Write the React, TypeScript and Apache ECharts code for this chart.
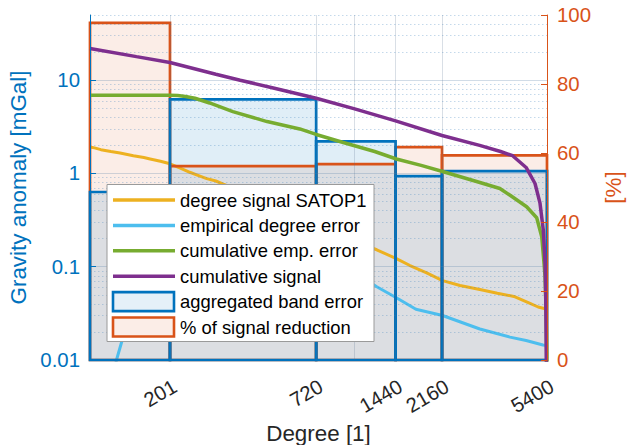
import React, { useEffect, useRef } from 'react';
import * as echarts from 'echarts';

const FONT = '"Liberation Sans", Arial, Helvetica, sans-serif';

const BLUE = '#0072BD';
const ORANGE = '#D95319';
const YELLOW = '#EDB120';
const PURPLE = '#7E2F8E';
const GREEN = '#77AC30';
const CYAN = '#4DBEEE';
const INK = '#262626';

// Spectral bands: degree edges, aggregated band error [mGal], signal reduction [%]
const bandEdges = [100, 201, 720, 1440, 2160, 5400];
const bandError = [0.633, 6.23, 2.21, 0.936, 1.058];
const signalReduction = [97.7, 56.2, 56.8, 61.7, 59.3];

// Axis ticks and grid positions
const degreeTicks = [201, 720, 1440, 2160, 5400];
const degreeGrid = [201, 720, 1000, 1440, 2160];
const anomalyMajor = [0.1, 1, 10];
const anomalyMinor = [
  0.02, 0.03, 0.04, 0.05, 0.06, 0.07, 0.08, 0.09,
  0.2, 0.3, 0.4, 0.5, 0.6, 0.7, 0.8, 0.9,
  2, 3, 4, 5, 6, 7, 8, 9,
  20, 30, 40, 50,
];

// degree signal SATOP1 [degree, mGal]
const degreeSignal = [
  [100, 1.92], [104, 1.88], [110, 1.8], [120, 1.72], [130, 1.66], [146, 1.55],
  [160, 1.48], [169, 1.43], [185, 1.35], [201, 1.27], [220, 1.14], [239, 1.03],
  [258, 0.95], [277, 0.88], [300, 0.83], [320, 0.77], [400, 0.6], [500, 0.46],
  [600, 0.36], [720, 0.29], [850, 0.235], [1000, 0.19], [1100, 0.17], [1222, 0.152],
  [1450, 0.122], [1633, 0.103], [1889, 0.086], [2170, 0.071], [2527, 0.063],
  [3005, 0.057], [3500, 0.052], [4045, 0.048], [4610, 0.041], [5000, 0.037], [5400, 0.035],
];

// empirical degree error [degree, mGal]
const degreeError = [
  [118, 0.004], [126, 0.01], [134.5, 0.019], [140, 0.03], [150, 0.06], [170, 0.14],
  [201, 0.26], [250, 0.36], [300, 0.4], [400, 0.36], [500, 0.28], [600, 0.2],
  [720, 0.14], [900, 0.1], [1100, 0.074], [1222, 0.061], [1450, 0.0465], [1720, 0.035],
  [2170, 0.03], [3005, 0.0215], [3908, 0.0176], [4500, 0.0162], [5213, 0.0145], [5400, 0.0143],
];

// cumulative empirical error [degree, mGal]
const cumulativeError = [
  [100, 6.9], [150, 6.9], [201, 6.9], [215, 6.85], [230, 6.7], [250, 6.4], [284, 5.7],
  [348, 4.6], [469, 3.6], [624, 3.0], [720, 2.62], [912, 2.15], [1200, 1.72], [1450, 1.43],
  [1800, 1.22], [2170, 1.05], [2920, 0.82], [3579, 0.69], [3925, 0.58], [4520, 0.44],
  [4936, 0.335], [5157, 0.21], [5260, 0.11], [5308, 0.079], [5355, 0.035], [5385, 0.012],
  [5398, 0.004],
];

// cumulative signal [degree, mGal]
const cumulativeSignal = [
  [100, 21.9], [150, 17.9], [201, 15.5], [300, 11.6], [371, 10], [500, 8.2], [720, 6.4],
  [1000, 4.96], [1440, 3.66], [2160, 2.55], [3000, 2.0], [3600, 1.72], [4000, 1.55],
  [4500, 1.16], [4864, 0.78], [5080, 0.48], [5229, 0.247], [5308, 0.11], [5341, 0.048],
  [5355, 0.021], [5370, 0.008], [5400, 0.004],
];

const errorBands = bandError.map((v, i) => [bandEdges[i], bandEdges[i + 1], v]);
const reductionBands = signalReduction.map((v, i) => [bandEdges[i], bandEdges[i + 1], v]);

const legendItems = [
  { label: 'degree signal SATOP1', kind: 'line', color: YELLOW },
  { label: 'empirical degree error', kind: 'line', color: CYAN },
  { label: 'cumulative emp. error', kind: 'line', color: GREEN },
  { label: 'cumulative signal', kind: 'line', color: PURPLE },
  { label: 'aggregated band error', kind: 'box', color: BLUE, fill: '#e5f0f8' },
  { label: '% of signal reduction', kind: 'box', color: ORANGE, fill: '#fbede7' },
];

const BLUE_FILL = 'rgba(0,114,189,0.12)';
const ORANGE_FILL = 'rgba(217,83,25,0.105)';

function bandRenderer(base: number, style: any) {
  return (_params: any, api: any) => {
    const p0 = api.coord([api.value(0), api.value(2)]);
    const p1 = api.coord([api.value(1), base]);
    return {
      type: 'rect',
      shape: { x: p0[0], y: p0[1], width: p1[0] - p0[0], height: p1[1] - p0[1] },
      style,
    };
  };
}

function buildLegend() {
  const left = 107;
  const top = 184.5;
  const rowH = 25.4;
  const Z = 100;
  const els: any[] = [
    {
      type: 'rect',
      z: Z,
      silent: true,
      shape: { x: left, y: top, width: 267, height: 157 },
      style: { fill: '#ffffff', stroke: '#9a9a9a', lineWidth: 1 },
    },
  ];
  legendItems.forEach((it, i) => {
    const cy = top + 15.5 + i * rowH;
    if (it.kind === 'line') {
      els.push({
        type: 'line',
        z: Z + 1,
        silent: true,
        shape: { x1: left + 6, y1: cy, x2: left + 68, y2: cy },
        style: { stroke: it.color, lineWidth: 3.5 },
      });
    } else {
      els.push({
        type: 'rect',
        z: Z + 1,
        silent: true,
        shape: { x: left + 6, y: cy - 9.5, width: 61, height: 19 },
        style: { fill: it.fill, stroke: it.color, lineWidth: 2.6 },
      });
    }
    els.push({
      type: 'text',
      z: Z + 1,
      silent: true,
      x: left + 73,
      y: cy,
      style: {
        text: it.label,
        fill: '#000000',
        font: `18.4px ${FONT}`,
        verticalAlign: 'middle',
        align: 'left',
      },
    });
  });
  return els;
}

const gridLines: any[] = [
  ...anomalyMajor.map((v) => ({
    yAxis: v,
    lineStyle: { color: 'rgba(90,130,170,0.28)', width: 1, type: 'solid' },
  })),
  ...anomalyMinor.map((v) => ({
    yAxis: v,
    lineStyle: { color: 'rgba(60,130,190,0.30)', width: 1, type: [1.5, 2.5] },
  })),
  ...degreeGrid.map((d) => ({
    xAxis: d,
    lineStyle: { color: 'rgba(80,110,140,0.22)', width: 1, type: 'solid' },
  })),
];

const option: any = {
  animation: false,
  backgroundColor: '#ffffff',
  textStyle: { fontFamily: FONT },
  grid: {
    left: 90,
    right: 85,
    top: 15,
    bottom: 85,
    containLabel: false,
    outerBoundsMode: 'none',
  },
  xAxis: {
    type: 'log',
    logBase: 10,
    min: 100,
    max: 5400,
    axisLine: { show: true, lineStyle: { color: INK, width: 1 } },
    axisTick: { show: false },
    splitLine: { show: false },
    axisLabel: {
      customValues: degreeTicks,
      interval: 0,
      rotate: 30,
      align: 'right',
      verticalAlign: 'top',
      margin: 16,
      fontSize: 20.4,
      color: INK,
      fontFamily: FONT,
      formatter: (v: number) => String(Math.round(v)),
    },
    name: 'Degree [1]',
    nameLocation: 'middle',
    nameGap: 58,
    nameTextStyle: { fontSize: 22.4, color: INK, fontFamily: FONT },
  },
  yAxis: [
    {
      type: 'log',
      logBase: 10,
      min: 0.01,
      max: 50,
      position: 'left',
      z: 10,
      axisLine: { show: true, lineStyle: { color: BLUE, width: 1 } },
      axisTick: { show: true, inside: true, length: 6, lineStyle: { color: BLUE } },
      splitLine: { show: false },
      axisLabel: {
        margin: 10,
        fontSize: 20.4,
        color: BLUE,
        fontFamily: FONT,
        showMaxLabel: false,
        formatter: (v: number) => {
          const e = Math.log10(v);
          const r = Math.round(e);
          if (Math.abs(e - r) > 1e-6) return '';
          return r < 0 ? Math.pow(10, r).toFixed(-r) : String(Math.pow(10, r));
        },
      },
      name: 'Gravity anomaly [mGal]',
      nameLocation: 'middle',
      nameRotate: 90,
      nameGap: 52,
      nameTextStyle: { fontSize: 22.4, color: BLUE, fontFamily: FONT },
    },
    {
      type: 'value',
      min: 0,
      max: 100,
      interval: 20,
      position: 'right',
      z: 10,
      axisLine: { show: true, lineStyle: { color: ORANGE, width: 1 } },
      axisTick: { show: true, inside: true, length: 6, lineStyle: { color: ORANGE } },
      splitLine: { show: false },
      axisLabel: { margin: 10, fontSize: 20.4, color: ORANGE, fontFamily: FONT },
      name: '[%]',
      nameLocation: 'middle',
      nameRotate: 90,
      nameGap: 55,
      nameTextStyle: { fontSize: 22.4, color: ORANGE, fontFamily: FONT },
    },
  ],
  graphic: { elements: buildLegend() },
  series: [
    {
      name: '% of signal reduction fill',
      type: 'custom',
      yAxisIndex: 1,
      z: 1,
      silent: true,
      clip: false,
      encode: { x: [0, 1], y: 2 },
      renderItem: bandRenderer(0, { fill: ORANGE_FILL, stroke: 'none' }),
      data: reductionBands,
    },
    {
      name: 'aggregated band error fill',
      type: 'custom',
      yAxisIndex: 0,
      z: 1,
      silent: true,
      clip: false,
      encode: { x: [0, 1], y: 2 },
      renderItem: bandRenderer(0.01, { fill: BLUE_FILL, stroke: 'none' }),
      data: errorBands,
    },
    {
      name: 'degree signal SATOP1',
      type: 'line',
      yAxisIndex: 0,
      z: 2,
      showSymbol: false,
      symbol: 'none',
      clip: true,
      lineStyle: { color: YELLOW, width: 3 },
      itemStyle: { color: YELLOW },
      data: degreeSignal,
      markLine: {
        silent: true,
        symbol: ['none', 'none'],
        label: { show: false },
        emphasis: { disabled: true },
        data: gridLines,
      },
    },
    {
      name: 'empirical degree error',
      type: 'line',
      yAxisIndex: 0,
      z: 2,
      showSymbol: false,
      symbol: 'none',
      clip: true,
      lineStyle: { color: CYAN, width: 3 },
      itemStyle: { color: CYAN },
      data: degreeError,
    },
    {
      name: '% of signal reduction',
      type: 'custom',
      yAxisIndex: 1,
      z: 3,
      silent: true,
      clip: false,
      encode: { x: [0, 1], y: 2 },
      renderItem: bandRenderer(0, { fill: 'none', stroke: ORANGE, lineWidth: 2.7 }),
      data: reductionBands,
    },
    {
      name: 'aggregated band error',
      type: 'custom',
      yAxisIndex: 0,
      z: 4,
      silent: true,
      clip: false,
      encode: { x: [0, 1], y: 2 },
      renderItem: bandRenderer(0.01, { fill: 'none', stroke: BLUE, lineWidth: 2.7 }),
      data: errorBands,
    },
    {
      name: 'cumulative emp. error',
      type: 'line',
      yAxisIndex: 0,
      z: 5,
      showSymbol: false,
      symbol: 'none',
      clip: true,
      lineStyle: { color: GREEN, width: 3.5 },
      itemStyle: { color: GREEN },
      data: cumulativeError,
    },
    {
      name: 'cumulative signal',
      type: 'line',
      yAxisIndex: 0,
      z: 5,
      showSymbol: false,
      symbol: 'none',
      clip: true,
      lineStyle: { color: PURPLE, width: 3.5 },
      itemStyle: { color: PURPLE },
      data: cumulativeSignal,
    },
  ],
};

export default function App() {
  const ref = useRef<HTMLDivElement>(null);
  useEffect(() => {
    document.body.style.margin = '0';
    const chart = echarts.init(ref.current as HTMLDivElement, null, { renderer: 'svg' });
    chart.setOption(option);
    return () => chart.dispose();
  }, []);
  return <div ref={ref} style={{ width: 632, height: 445 }} />;
}
